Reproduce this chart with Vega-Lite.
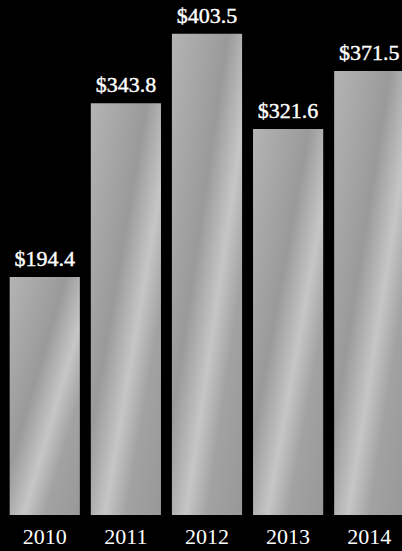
{
  "$schema": "https://vega.github.io/schema/vega-lite/v6.json",
  "width": 398,
  "height": 504,
  "autosize": {"type": "none"},
  "padding": {"left": 4, "top": 11, "right": 0, "bottom": 36},
  "background": "#000000",
  "config": {"view": {"stroke": null}},
  "data": {"values": [
    {"year": "2010", "value": 194.4},
    {"year": "2011", "value": 343.8},
    {"year": "2012", "value": 403.5},
    {"year": "2013", "value": 321.6},
    {"year": "2014", "value": 371.5}
  ]},
  "encoding": {
    "x": {"field": "year", "type": "nominal", "sort": null,
      "scale": {"range": [0, 406], "paddingInner": 0.135, "paddingOuter": 0.07},
      "axis": {"title": null, "domain": false, "ticks": false, "tickSize": 0, "labelPadding": 28, "labelBaseline": "alphabetic", "labelAngle": 0, "labelFont": "Liberation Serif", "labelFontSize": 22, "labelColor": "#ffffff"}},
    "y": {"field": "value", "type": "quantitative", "scale": {"domain": [-10, 423], "zero": false, "nice": false}, "axis": null}
  },
  "layer": [
    {"mark": {"type": "bar", "color": {"gradient": "linear", "x1": 0, "y1": 0, "x2": 1, "y2": 1,
      "stops": [
        {"offset": 0, "color": "#b4b4b4"},
        {"offset": 0.4, "color": "#9a9a9a"},
        {"offset": 0.6, "color": "#c6c6c6"},
        {"offset": 0.75, "color": "#a2a2a2"},
        {"offset": 1, "color": "#989898"}
      ]}},
      "encoding": {"y2": {"datum": -10}}},
    {"mark": {"type": "text", "dy": -11, "baseline": "alphabetic", "font": "Liberation Serif", "fontSize": 22, "color": "#ffffff", "stroke": "#ffffff", "strokeWidth": 0.4},
      "encoding": {"text": {"field": "value", "type": "quantitative", "format": "$.1f"}}}
  ]
}
